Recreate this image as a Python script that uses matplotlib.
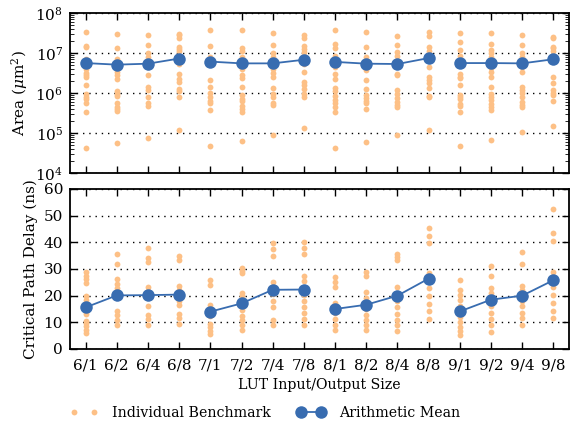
import matplotlib
matplotlib.use("Agg")
import matplotlib.pyplot as plt
import numpy as np

plt.rcParams['font.family'] = ['DejaVu Serif']
plt.rcParams['mathtext.fontset'] = 'dejavuserif'

categories = ["6/1", "6/2", "6/4", "6/8", "7/1", "7/2", "7/4", "7/8",
              "8/1", "8/2", "8/4", "8/8", "9/1", "9/2", "9/4", "9/8"]

area_6x = [
    [3.5e7, 1.55e7, 1.4e7, 7.2e6, 5.4e6, 4.1e6, 3.2e6, 2.8e6, 2.5e6, 1.6e6, 9.6e5, 8.3e5, 7.1e5, 5.6e5, 3.5e5, 4.3e4],
    [3.0e7, 1.33e7, 7.2e6, 6.0e6, 4.5e6, 3.35e6, 2.8e6, 2.3e6, 1.17e6, 9.6e5, 8.7e5, 5.6e5, 4.6e5, 4.1e5, 3.7e5, 5.8e4],
    [2.9e7, 1.65e7, 1.0e7, 8.3e6, 6.6e6, 4.5e6, 2.9e6, 1.4e6, 1.2e6, 7.9e5, 5.6e5, 4.9e5, 7.6e4],
    [3.0e7, 2.8e7, 2.4e7, 1.47e7, 1.28e7, 1.12e7, 8.7e6, 7.2e6, 5.4e6, 3.0e6, 2.3e6, 1.9e6, 1.28e6, 1.17e6, 7.9e5, 1.24e5],
]
area_7x = [
    [3.9e7, 1.5e7, 7.9e6, 5.4e6, 2.15e6, 1.4e6, 1.0e6, 7.9e5, 6.3e5, 5.6e5, 3.9e5, 4.9e4],
    [3.8e7, 1.33e7, 1.17e7, 7.9e6, 6.6e6, 4.9e6, 4.1e6, 2.9e6, 2.4e6, 1.4e6, 9.1e5, 7.2e5, 6.3e5, 4.9e5, 4.1e5, 3.5e5, 6.3e4],
    [3.2e7, 1.6e7, 1.0e7, 7.9e6, 5.4e6, 4.1e6, 3.2e6, 2.6e6, 1.36e6, 9.6e5, 8.3e5, 5.6e5, 5.1e5, 9.3e4],
    [2.8e7, 2.4e7, 1.5e7, 1.28e7, 1.1e7, 8.7e6, 6.6e6, 5.4e6, 3.35e6, 1.9e6, 1.6e6, 1.28e6, 9.6e5, 7.9e5, 1.36e5],
]
area_8x = [
    [3.8e7, 1.7e7, 1.33e7, 8.7e6, 6.0e6, 4.5e6, 3.0e6, 2.3e6, 1.36e6, 1.12e6, 8.7e5, 6.8e5, 5.6e5, 4.6e5, 3.5e5, 4.3e4],
    [3.35e7, 1.4e7, 7.9e6, 5.4e6, 3.8e6, 2.15e6, 1.28e6, 9.1e5, 7.5e5, 6.3e5, 5.6e5, 4.1e5, 6.0e4],
    [2.7e7, 1.6e7, 1.06e7, 8.4e6, 6.0e6, 3.0e6, 2.8e6, 1.2e6, 9.6e5, 7.5e5, 6.0e5, 5.2e5, 4.6e5, 9.1e4],
    [3.35e7, 2.7e7, 1.47e7, 1.17e7, 8.3e6, 4.5e6, 2.6e6, 2.15e6, 1.8e6, 1.36e6, 8.7e5, 7.9e5, 1.19e5],
]
area_9x = [
    [3.2e7, 1.95e7, 1.2e7, 8.7e6, 5.4e6, 3.0e6, 2.6e6, 2.4e6, 1.6e6, 9.3e5, 8.3e5, 7.2e5, 5.4e5, 4.9e5, 3.5e5, 4.9e4],
    [3.2e7, 1.7e7, 1.2e7, 1.02e7, 7.9e6, 4.3e6, 3.35e6, 2.6e6, 1.4e6, 9.6e5, 8.3e5, 6.8e5, 5.4e5, 4.5e5, 3.9e5, 6.9e4],
    [2.8e7, 1.6e7, 1.0e7, 7.9e6, 5.6e6, 4.5e6, 3.35e6, 1.4e6, 1.2e6, 1.0e6, 8.3e5, 6.0e5, 5.2e5, 4.5e5, 1.06e5],
    [2.6e7, 2.4e7, 1.47e7, 1.33e7, 1.12e7, 8.7e6, 7.2e6, 2.6e6, 1.8e6, 1.2e6, 1.0e6, 9.1e5, 6.3e5, 1.55e5],
]
area_mean = [5.7e6, 5.2e6, 5.5e6, 7.4e6, 6.2e6, 5.6e6, 5.6e6, 6.9e6,
             6.1e6, 5.5e6, 5.4e6, 7.6e6, 5.7e6, 5.7e6, 5.6e6, 7.1e6]

delay_6x = [
    [28.75, 27.5, 26.25, 24.75, 19.75, 18.5, 17.25, 14, 13, 10.6, 9.75, 8.5, 7.25, 6],
    [35.6, 31.9, 26.25, 24.4, 22.9, 21.4, 20, 14.4, 12.9, 10.9, 9.1],
    [37.9, 34.1, 32.5, 23.1, 21.6, 19.5, 16.25, 12.6, 11.25, 9.1],
    [35, 33.25, 23.5, 22.25, 20.5, 18.1, 16.6, 13.1, 11.6, 9.4],
]
delay_7x = [
    [26, 24.1, 16.6, 15.5, 12.25, 9.4, 8.1, 6.9, 5.6],
    [30.4, 29.4, 28.5, 21, 19.75, 17, 14.75, 12.5, 11, 9.1, 7.25],
    [39.75, 37.5, 35, 25, 20.6, 18.1, 15.6, 11, 8.9],
    [40.1, 37.9, 35.75, 27.25, 25.4, 20.4, 18.1, 15.75, 13.5, 11.25, 8.9],
]
delay_8x = [
    [26.9, 25.1, 23.25, 17.25, 16, 13.5, 11.25, 9.1, 7.25],
    [28.75, 27.5, 21.4, 19.1, 15, 12.9, 11, 9.1, 7.25],
    [35.6, 34.4, 33.25, 23.1, 17.9, 15.75, 13.25, 11, 9.1, 6.6],
    [45.4, 42.5, 39.75, 28.5, 22.9, 19.75, 16.9, 14.1, 11.25],
]
delay_9x = [
    [25.9, 22.1, 20.25, 18.4, 16.1, 12.1, 10.25, 8.4, 6.9, 5.25],
    [31.1, 27.4, 23, 20.9, 16.1, 13.6, 11.1, 8.9, 6.5],
    [36.5, 31.9, 23.6, 22.1, 18.1, 16.1, 13.6, 11.5, 9],
    [52.4, 43.6, 40.6, 29, 23.1, 20.25, 17.1, 14.4, 11.75],
]
delay_mean = [15.6, 20.1, 20.2, 20.4, 14.0, 17.1, 22.2, 22.3,
              15.0, 16.6, 20.0, 26.4, 14.1, 18.5, 20.0, 25.8]

area_points = area_6x + area_7x + area_8x + area_9x
delay_points = delay_6x + delay_7x + delay_8x + delay_9x

ORANGE = '#fdc086'
BLUE = '#386cb0'
FS = 10.2

fig = plt.figure(figsize=(5.71, 4.30), dpi=100)
ax1 = fig.add_axes([70/571, 1-173.3/430, 499/571, 160/430])
ax2 = fig.add_axes([70/571, 1-349/430, 499/571, 160/430])

x = np.arange(len(categories))

for ax, pts, means in ((ax1, area_points, area_mean), (ax2, delay_points, delay_mean)):
    for i, p in enumerate(pts):
        ax.plot([x[i]] * len(p), p, 'o', color=ORANGE, markersize=4.2,
                markeredgewidth=0, zorder=3)
    for g in range(4):
        sl = slice(4 * g, 4 * g + 4)
        ax.plot(x[sl], means[sl], '-o', color=BLUE, markersize=9, lw=1.3,
                markeredgewidth=0, zorder=4)
    ax.set_xlim(-0.5, len(categories) - 0.5)
    ax.grid(axis='y', color='black', linestyle=(0, (1, 3.5)), linewidth=1.0)
    ax.set_axisbelow(True)
    ax.tick_params(direction='in', top=True, right=True, labelsize=FS + 0.8,
                   length=5, width=1)
    ax.tick_params(axis='x', pad=6.5)
    ax.tick_params(axis='y', pad=5)
    ax.tick_params(which='minor', direction='in', top=False, right=True, length=3)
    for s in ax.spines.values():
        s.set_linewidth(1.3)
    ax.set_xticks(x)

ax1.set_yscale('log')
ax1.set_ylim(1e4, 1e8)
ax1.set_xticklabels([])
ax1.set_ylabel(r'Area ($\mu$m$^2$)', fontsize=FS + 0.8)

ax2.set_ylim(0, 60)
ax2.set_yticks(np.arange(0, 61, 10))
ax2.set_xticklabels(categories)
ax2.set_ylabel('Critical Path Delay (ns)', fontsize=FS + 0.8)
ax2.set_xlabel('LUT Input/Output Size', fontsize=FS, labelpad=4)

h1, = ax2.plot([], [], 'o', color=ORANGE, markersize=4.2, markeredgewidth=0)
h2, = ax2.plot([], [], '-o', color=BLUE, markersize=9, lw=1.3, markeredgewidth=0)
fig.legend([h1, h2], ['Individual Benchmark', 'Arithmetic Mean'], ncol=2,
           loc='center', bbox_to_anchor=(265/571, 1 - 413/430), frameon=False,
           fontsize=FS, numpoints=2, columnspacing=1.8, handlelength=2.0,
           handletextpad=1.0)

fig.savefig('out.png', dpi=100)
